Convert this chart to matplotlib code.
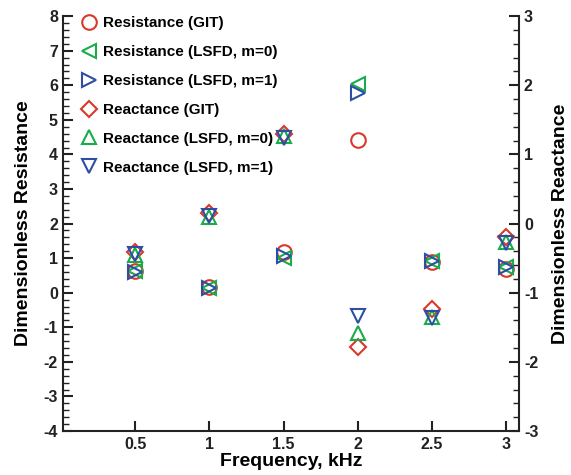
import matplotlib.pyplot as plt
from matplotlib.ticker import MultipleLocator

plt.rcParams['font.family'] = ['Liberation Sans', 'DejaVu Sans']
plt.rcParams['font.weight'] = 'bold'
plt.rcParams['axes.unicode_minus'] = False

freq = [0.5, 1.0, 1.5, 2.0, 2.5, 3.0]

# resistance, left axis
res_git = [0.62, 0.16, 1.18, 4.42, 0.90, 0.68]
res_m0 = [0.64, 0.15, 1.00, 6.03, 0.92, 0.75]
res_m1 = [0.60, 0.15, 1.06, 5.78, 0.93, 0.73]

# reactance, right axis
rea_git = [-0.41, 0.16, 1.30, -1.78, -1.24, -0.20]
rea_m0 = [-0.45, 0.09, 1.26, -1.58, -1.35, -0.26]
rea_m1 = [-0.44, 0.11, 1.24, -1.33, -1.37, -0.28]

red = '#d8392b'
green = '#1aab4b'
blue = '#2c4fa3'

fig = plt.figure(figsize=(5.71, 4.75), dpi=100)
ax = fig.add_axes([0.110, 0.0926, 0.799, 0.8734])
ax2 = ax.twinx()

mk = dict(linestyle='none', markerfacecolor='none', markeredgewidth=1.5)
h1, = ax.plot(freq, res_git, 'o', color=red, markersize=10.5, label='Resistance (GIT)', **mk)
h2, = ax.plot(freq, res_m0, '<', color=green, markersize=9.5, label='Resistance (LSFD, m=0)', **mk)
h3, = ax.plot(freq, res_m1, '>', color=blue, markersize=9.5, label='Resistance (LSFD, m=1)', **mk)
h4, = ax2.plot(freq, rea_git, 'D', color=red, markersize=8.5, label='Reactance (GIT)', **mk)
h5, = ax2.plot(freq, rea_m0, '^', color=green, markersize=9.5, label='Reactance (LSFD, m=0)', **mk)
h6, = ax2.plot(freq, rea_m1, 'v', color=blue, markersize=9.5, label='Reactance (LSFD, m=1)', **mk)

ax.set_xlim(0.01, 3.09)
ax.set_ylim(-4, 8)
ax2.set_ylim(-3, 3)
ax.set_xticks([0.5, 1, 1.5, 2, 2.5, 3])
ax.set_xticklabels(['0.5', '1', '1.5', '2', '2.5', '3'])
ax.yaxis.set_major_locator(MultipleLocator(1))
ax.yaxis.set_minor_locator(MultipleLocator(0.2))
ax2.yaxis.set_major_locator(MultipleLocator(1))
ax2.yaxis.set_minor_locator(MultipleLocator(0.2))

for a in (ax, ax2):
    a.spines['top'].set_visible(False)
    for s in a.spines.values():
        s.set_linewidth(1.5)
        s.set_color('#222222')
ax.spines['right'].set_visible(False)
ax2.spines['left'].set_visible(False)
ax2.spines['bottom'].set_visible(False)

ax.tick_params(axis='both', which='major', direction='in', length=7, width=1.5, labelsize=11.5, colors='#222222')
ax.tick_params(axis='y', which='minor', direction='in', length=4, width=1.0, colors='#222222')
ax.tick_params(axis='x', pad=4)
ax2.tick_params(axis='y', which='major', direction='in', length=7, width=1.5, labelsize=11.5, colors='#222222')
ax2.tick_params(axis='y', which='minor', direction='in', length=4, width=1.0, colors='#222222')

ax.set_xlabel('Frequency, kHz', fontsize=14, fontweight='bold', labelpad=1)
ax.set_ylabel('Dimensionless Resistance', fontsize=14, fontweight='bold', labelpad=8)
ax2.set_ylabel('Dimensionless Reactance', fontsize=14, fontweight='bold', labelpad=10)

ax2.legend(handles=[h1, h2, h3, h4, h5, h6], loc='upper left', bbox_to_anchor=(0.01, 1.025),
           frameon=False, fontsize=11, labelspacing=0.97, handletextpad=0.2, handlelength=1.4,
           borderaxespad=0.3)

fig.savefig('out.png', dpi=100)
